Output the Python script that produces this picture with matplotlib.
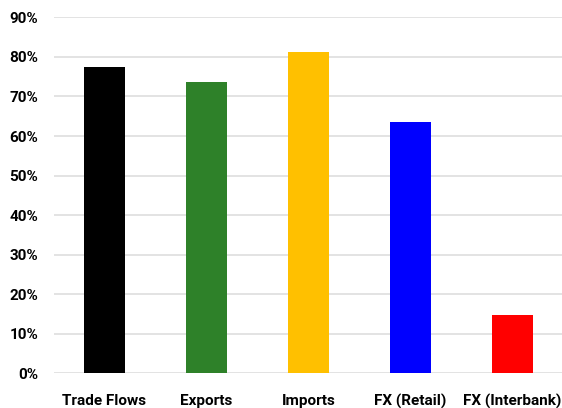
import numpy as np
import matplotlib.pyplot as plt
from matplotlib.ticker import PercentFormatter

categories = ["Trade Flows", "Exports", "Imports", "FX (Retail)", "FX (Interbank)"]
values = [77.5, 73.7, 81.2, 63.6, 14.8]
colors = ["#000000", "#2E8129", "#FFC000", "#0000FF", "#FF0000"]

plt.rcParams['font.family'] = ['Roboto', 'DejaVu Sans']

fig = plt.figure(figsize=(5.62, 4.08), dpi=100)
ax = fig.add_axes([0.0952, 0.085, 0.9075, 0.8725])

x = np.arange(len(categories))
ax.bar(x, values, width=0.4, color=colors, zorder=3)

ax.set_xlim(-0.5, len(categories) - 0.5)
ax.set_ylim(0, 90)
ax.set_yticks(np.arange(0, 91, 10))
ax.yaxis.set_major_formatter(PercentFormatter(decimals=0))
ax.set_xticks(x)
ax.set_xticklabels(categories)

# gridlines only, no frame
for s in ax.spines.values():
    s.set_visible(False)
ax.grid(axis='y', color='#DEDEDE', linewidth=1.2, zorder=0)
ax.tick_params(axis='both', length=0, labelsize=11)
ax.tick_params(axis='x', pad=15)
ax.tick_params(axis='y', pad=11)
for lab in ax.get_xticklabels() + ax.get_yticklabels():
    lab.set_fontweight('bold')

fig.savefig("out.png", dpi=100)
